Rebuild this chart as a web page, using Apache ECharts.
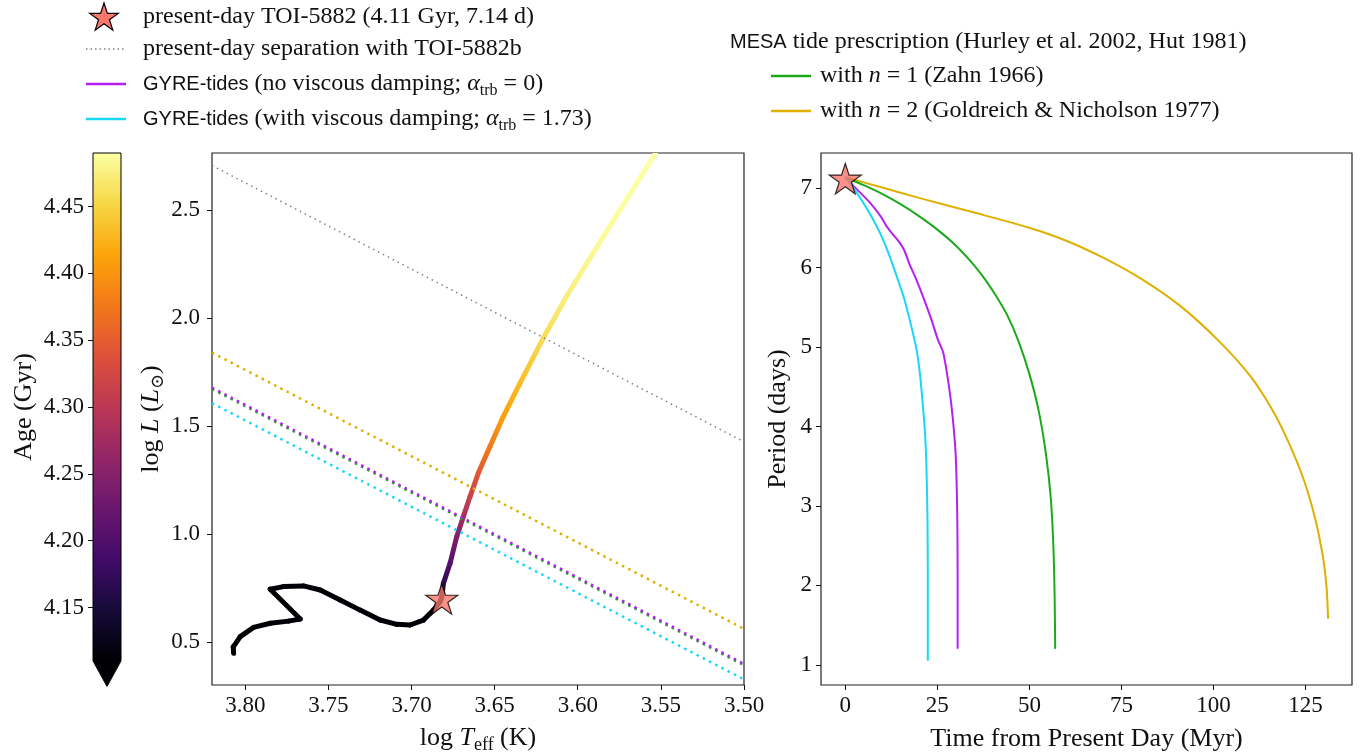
<!DOCTYPE html>
<html>
<head>
<meta charset="utf-8">
<script src="https://cdn.jsdelivr.net/npm/echarts@6/dist/echarts.min.js"></script>
<style>
  html, body { margin: 0; padding: 0; background: #fff; }
  #main { width: 1369px; height: 753px; }
</style>
</head>
<body>
<div id="main"></div>
<script>
// ---- Evolutionary track of TOI-5882: log Teff, log L and age (Gyr) ----
const trackLogT = [3.8070, 3.8072, 3.8030, 3.7950, 3.7850, 3.7740, 3.7669, 3.7850, 3.7770, 3.7650,
                   3.7549, 3.7429, 3.7309, 3.7189, 3.7088, 3.7008, 3.6928, 3.6868, 3.6828, 3.6818,
                   3.6808, 3.6768, 3.6728, 3.6688, 3.6648, 3.6598, 3.6528, 3.6448, 3.6347, 3.6207,
                   3.6067, 3.5907, 3.5726, 3.5532];
const trackLogL = [0.447, 0.477, 0.524, 0.567, 0.586, 0.596, 0.606, 0.744, 0.756, 0.759,
                   0.740, 0.694, 0.647, 0.601, 0.581, 0.578, 0.601, 0.647, 0.686, 0.706,
                   0.771, 0.864, 0.987, 1.080, 1.173, 1.282, 1.405, 1.544, 1.699, 1.908,
                   2.101, 2.302, 2.526, 2.765];
const trackAge  = [0.30, 0.60, 1.00, 1.50, 2.00, 2.40, 2.80, 3.00, 3.20, 3.35,
                   3.50, 3.62, 3.74, 3.84, 3.92, 3.98, 4.03, 4.07, 4.095, 4.11,
                   4.167, 4.205, 4.243, 4.281, 4.315, 4.345, 4.378, 4.410, 4.432, 4.458,
                   4.474, 4.484, 4.489, 4.490];

// ---- Present-day star ----
const presentLogT = 3.6818;
const presentLogL = 0.706;
const presentPeriod = 7.14;   // days
const presentAge = 4.11;      // Gyr

// ---- Lines of constant radius (log L at log Teff = 3.82 and 3.50) ----
const radiusLogT = [3.82, 3.50];
const sepLogL     = [2.707, 1.427];   // present-day separation with TOI-5882b
const mesaN2LogL  = [1.840, 0.560];   // MESA, n = 2
const mesaN1LogL  = [1.672, 0.392];   // MESA, n = 1
const gyreA0LogL  = [1.678, 0.398];   // GYRE-tides, alpha_trb = 0
const gyreA173LogL= [1.606, 0.326];   // GYRE-tides, alpha_trb = 1.73

// ---- Orbital decay: time from present day (Myr) and period (days) ----
const mesaN2Time   = [0, 2, 10, 20, 35, 49.5, 60, 70.3, 80.7, 91.2, 101.6, 109.9, 116.1, 120.3, 124.5, 127.6, 129.7, 130.7, 131.1];
const mesaN2Period = [7.14, 7.115, 7.01, 6.88, 6.695, 6.51, 6.34, 6.12, 5.85, 5.51, 5.07, 4.64, 4.20, 3.81, 3.33, 2.84, 2.36, 1.97, 1.58];

const mesaN1Time   = [0, 5, 10, 15, 20, 25, 30, 35, 38, 41, 44, 47, 50, 52.5, 54.5, 55.8, 56.5, 56.85, 57.0];
const mesaN1Period = [7.14, 7.04, 6.93, 6.80, 6.65, 6.48, 6.28, 6.03, 5.85, 5.64, 5.40, 5.08, 4.66, 4.20, 3.65, 3.10, 2.50, 1.85, 1.20];

const gyreA0Time   = [0, 2.0, 6.5, 9.7, 11.1, 12.4, 14.7, 16.0, 17.4, 19.2, 21.0, 23.3, 25.1, 26.6, 28.2, 29.2, 30.0, 30.4, 30.5, 30.5];
const gyreA0Period = [7.14, 7.04, 6.83, 6.64, 6.53, 6.45, 6.32, 6.22, 6.05, 5.86, 5.65, 5.36, 5.10, 4.93, 4.49, 4.10, 3.62, 2.89, 2.16, 1.20];

const gyreA173Time   = [0, 2.0, 4.7, 7.4, 9.7, 12.0, 14.2, 16.0, 17.4, 18.5, 19.4, 20.3, 21.0, 21.6, 22.0, 22.3, 22.4, 22.4];
const gyreA173Period = [7.14, 7.02, 6.83, 6.62, 6.41, 6.15, 5.86, 5.61, 5.36, 5.15, 4.96, 4.65, 4.30, 3.95, 3.55, 2.89, 2.16, 1.05];

// ---- Axis ticks ----
const hrTicksX = [3.80, 3.75, 3.70, 3.65, 3.60, 3.55, 3.50];
const hrTicksY = [0.5, 1.0, 1.5, 2.0, 2.5];
const decayTicksX = [0, 25, 50, 75, 100, 125];
const decayTicksY = [1, 2, 3, 4, 5, 6, 7];
const ageTicks = [4.15, 4.20, 4.25, 4.30, 4.35, 4.40, 4.45];
const ageRange = [4.11, 4.49];

// ---- Styling ----
const SERIF = "'Liberation Serif', 'DejaVu Serif', serif";
const SANS = "'Liberation Sans', 'DejaVu Sans', sans-serif";
const INK = '#111';
const C_GOLD = '#dfb000', C_GREEN = '#1caa1c', C_PURPLE = '#b520f5', C_CYAN = '#18d8f8', C_GRAY = '#808080';
const C_STAR = '#f8766a';
const INFERNO = ['#000004', '#160b39', '#420a68', '#6a176e', '#932667', '#bc3754',
                 '#dd513a', '#f37819', '#fca50a', '#f6d746', '#fcffa4'];

function inferno(age) {
  let t = (age - ageRange[0]) / (ageRange[1] - ageRange[0]);
  t = Math.max(0, Math.min(1, t));
  return echarts.color.lerp(t, INFERNO);
}

// five-pointed star outline around (cx, cy)
function starPoints(cx, cy, R) {
  const pts = [];
  for (let k = 0; k < 10; k++) {
    const r = k % 2 === 0 ? R : R * 0.382;
    const a = -Math.PI / 2 + k * Math.PI / 5;
    pts.push([cx + r * Math.cos(a), cy + r * Math.sin(a)]);
  }
  return pts;
}
const STAR_PATH = 'path://' + starPoints(100, 100, 100)
  .map((p, i) => (i ? 'L' : 'M') + p[0].toFixed(2) + ' ' + p[1].toFixed(2)).join(' ') + ' Z';

const tickFont = { fontFamily: SERIF, fontSize: 23, color: INK };
const richMath = {
  r:   { fontFamily: SERIF, fontSize: 26, color: INK, lineHeight: 32 },
  i:   { fontFamily: SERIF, fontSize: 26, color: INK, fontStyle: 'italic', lineHeight: 32 },
  sub: { fontFamily: SERIF, fontSize: 18, color: INK, lineHeight: 20, verticalAlign: 'bottom' }
};

function valueAxis(opts) {
  return Object.assign({
    type: 'value',
    splitLine: { show: false },
    axisLine: { show: false, onZero: false },
    nameLocation: 'middle',
    nameTextStyle: { fontFamily: SERIF, fontSize: 26, color: INK, rich: richMath }
  }, opts);
}
function ticks(values, fmt, margin) {
  return {
    axisTick: { show: true, inside: false, length: 5, lineStyle: { color: INK, width: 1 }, customValues: values },
    axisLabel: Object.assign({ margin: margin || 9, customValues: values, formatter: fmt }, tickFont)
  };
}

// pairs of arrays -> [[x, y], ...]
const zip = (xs, ys) => xs.map((x, i) => [x, ys[i]]);

const trackSegments = [];
for (let i = 0; i < trackLogT.length - 1; i++) {
  trackSegments.push([trackLogT[i], trackLogL[i], trackLogT[i + 1], trackLogL[i + 1], trackAge[i], trackAge[i + 1]]);
}

function dottedLine(name, ys, color, width, dash) {
  return {
    name, type: 'line', xAxisIndex: 0, yAxisIndex: 0,
    data: zip(radiusLogT, ys), showSymbol: false, silent: true,
    lineStyle: { color, width, type: dash, cap: 'butt' }
  };
}
function decayLine(name, xs, ys, color) {
  return {
    name, type: 'line', xAxisIndex: 1, yAxisIndex: 1,
    data: zip(xs, ys), showSymbol: false, silent: true, smooth: 0.25,
    lineStyle: { color, width: 2 }
  };
}

// ---- Legend drawn as graphic elements ----
const legRich = {
  t:   { fontFamily: SERIF, fontSize: 24, color: INK, lineHeight: 30 },
  s:   { fontFamily: SANS, fontSize: 20, color: INK, lineHeight: 30 },
  i:   { fontFamily: SERIF, fontSize: 24, color: INK, fontStyle: 'italic', lineHeight: 30 },
  sub: { fontFamily: SERIF, fontSize: 16, color: INK, lineHeight: 17, verticalAlign: 'bottom' }
};
function legText(x, y, text) {
  return { type: 'text', x, y, silent: true,
    style: { text, rich: legRich, verticalAlign: 'middle', align: 'left', fill: INK } };
}
function legLine(x1, x2, y, color, width, dash) {
  return { type: 'line', silent: true, shape: { x1, y1: y, x2, y2: y },
    style: { stroke: color, lineWidth: width, lineDash: dash || null } };
}
const graphics = [
  { type: 'polygon', silent: true, shape: { points: starPoints(104, 18, 15) },
    style: { fill: C_STAR, stroke: '#000', lineWidth: 1.2 } },
  legText(143, 17, '{t|present-day TOI-5882 (4.11 Gyr, 7.14 d)}'),
  legLine(86, 126, 49, C_GRAY, 1.5, [1.5, 3]),
  legText(143, 49, '{t|present-day separation with TOI-5882b}'),
  legLine(86, 126, 84, C_PURPLE, 2.5),
  legText(143, 84, '{s|GYRE-tides}{t| (no viscous damping; }{i|α}{sub|trb}{t| = 0)}'),
  legLine(86, 126, 119, C_CYAN, 2.5),
  legText(143, 119, '{s|GYRE-tides}{t| (with viscous damping; }{i|α}{sub|trb}{t| = 1.73)}'),
  legText(730, 42, '{s|MESA}{t| tide prescription (Hurley et al. 2002, Hut 1981)}'),
  legLine(771, 811, 76, C_GREEN, 2.5),
  legText(820, 76, '{t|with }{i|n}{t| = 1 (Zahn 1966)}'),
  legLine(771, 811, 111, C_GOLD, 2.5),
  legText(820, 111, '{t|with }{i|n}{t| = 2 (Goldreich & Nicholson 1977)}')
];

const option = {
  animation: false,
  backgroundColor: '#fff',
  grid: [
    { left: 212, top: 153, width: 532, height: 532, show: true, borderColor: '#222', borderWidth: 1.2, backgroundColor: 'transparent', containLabel: false, outerBoundsMode: 'none' },
    { left: 821, top: 153, width: 531, height: 532, show: true, borderColor: '#222', borderWidth: 1.2, backgroundColor: 'transparent', containLabel: false, outerBoundsMode: 'none' },
    { left: 93, top: 153, width: 28, height: 508, show: false, containLabel: false, outerBoundsMode: 'none' }
  ],
  xAxis: [
    valueAxis(Object.assign({ gridIndex: 0, min: 3.50, max: 3.82, inverse: true,
      name: '{r|log }{i|T}{sub|eff}{r| (K)}', nameGap: 37 }, ticks(hrTicksX, v => v.toFixed(2)))),
    valueAxis(Object.assign({ gridIndex: 1, min: -6.6, max: 137.6,
      name: 'Time from Present Day (Myr)', nameGap: 41 }, ticks(decayTicksX))),
    { type: 'value', gridIndex: 2, min: 0, max: 1, show: false }
  ],
  yAxis: [
    valueAxis(Object.assign({ gridIndex: 0, min: 0.30, max: 2.765,
      name: '{r|log }{i|L}{r| (}{i|L}{sub|⊙}{r|)}', nameGap: 44 }, ticks(hrTicksY, v => v.toFixed(1), 12))),
    valueAxis(Object.assign({ gridIndex: 1, min: 0.745, max: 7.445,
      name: 'Period (days)', nameGap: 30 }, ticks(decayTicksY))),
    valueAxis(Object.assign({ gridIndex: 2, min: ageRange[0], max: ageRange[1],
      name: 'Age (Gyr)', nameGap: 56 }, ticks(ageTicks, v => v.toFixed(2))))
  ],
  graphic: graphics,
  series: [
    // constant-radius lines in the HR diagram
    dottedLine('MESA n=2', mesaN2LogL, C_GOLD, 2.5, [2.5, 4.5]),
    dottedLine('MESA n=1', mesaN1LogL, C_GREEN, 2.5, [2.5, 4.5]),
    dottedLine('GYRE alpha=0', gyreA0LogL, C_PURPLE, 2.5, [2.5, 4.5]),
    dottedLine('GYRE alpha=1.73', gyreA173LogL, C_CYAN, 2.5, [2.5, 4.5]),
    // evolutionary track coloured by age
    {
      name: 'track', type: 'custom', xAxisIndex: 0, yAxisIndex: 0, clip: true, silent: true,
      encode: { x: [0, 2], y: [1, 3] },
      data: trackSegments,
      renderItem(params, api) {
        const p1 = api.coord([api.value(0), api.value(1)]);
        const p2 = api.coord([api.value(2), api.value(3)]);
        const c1 = inferno(api.value(4)), c2 = inferno(api.value(5));
        return {
          type: 'line',
          shape: { x1: p1[0], y1: p1[1], x2: p2[0], y2: p2[1] },
          style: {
            stroke: new echarts.graphic.LinearGradient(p1[0], p1[1], p2[0], p2[1],
              [{ offset: 0, color: c1 }, { offset: 1, color: c2 }], true),
            lineWidth: 5, lineCap: 'round'
          }
        };
      }
    },
    dottedLine('separation', sepLogL, C_GRAY, 1.5, [1.5, 4]),
    {
      name: 'present HR', type: 'scatter', xAxisIndex: 0, yAxisIndex: 0, silent: true,
      data: [[presentLogT, presentLogL]], symbol: STAR_PATH, symbolSize: [32, 30.5], symbolOffset: [0, 1.5],
      itemStyle: { color: C_STAR, borderColor: '#000', borderWidth: 1.2 }, z: 5
    },
    // orbital decay curves
    decayLine('MESA n=2', mesaN2Time, mesaN2Period, C_GOLD),
    decayLine('MESA n=1', mesaN1Time, mesaN1Period, C_GREEN),
    decayLine('GYRE alpha=0', gyreA0Time, gyreA0Period, C_PURPLE),
    decayLine('GYRE alpha=1.73', gyreA173Time, gyreA173Period, C_CYAN),
    {
      name: 'present decay', type: 'scatter', xAxisIndex: 1, yAxisIndex: 1, silent: true,
      data: [[0, presentPeriod]], symbol: STAR_PATH, symbolSize: [32, 30.5], symbolOffset: [0, 1.5],
      itemStyle: { color: C_STAR, borderColor: '#000', borderWidth: 1.2 }, z: 5
    },
    // colour bar with an extension below the minimum age
    {
      name: 'colorbar', type: 'custom', xAxisIndex: 2, yAxisIndex: 2, silent: true,
      data: [[0, ageRange[0], 1, ageRange[1]]],
      encode: { x: [0, 2], y: [1, 3] },
      renderItem(params, api) {
        const lo = api.coord([api.value(0), api.value(1)]);
        const hi = api.coord([api.value(2), api.value(3)]);
        const h = lo[1] - hi[1];
        const tipY = lo[1] + 0.05 * h;
        const stops = INFERNO.map((c, k) => ({ offset: k / (INFERNO.length - 1), color: c }));
        return {
          type: 'group',
          children: [
            { type: 'rect', shape: { x: lo[0], y: hi[1], width: hi[0] - lo[0], height: h },
              style: { fill: new echarts.graphic.LinearGradient(0, 1, 0, 0, stops), stroke: null } },
            { type: 'polygon', shape: { points: [[lo[0], lo[1] - 0.5], [hi[0], lo[1] - 0.5], [(lo[0] + hi[0]) / 2, tipY]] },
              style: { fill: INFERNO[0], stroke: null } },
            { type: 'polygon', shape: { points: [[lo[0], hi[1]], [hi[0], hi[1]], [hi[0], lo[1]], [(lo[0] + hi[0]) / 2, tipY], [lo[0], lo[1]]] },
              style: { fill: null, stroke: '#000', lineWidth: 1 } }
          ]
        };
      }
    }
  ]
};

const chart = echarts.init(document.getElementById('main'), null, { renderer: 'canvas' });
chart.setOption(option);
</script>
</body>
</html>
